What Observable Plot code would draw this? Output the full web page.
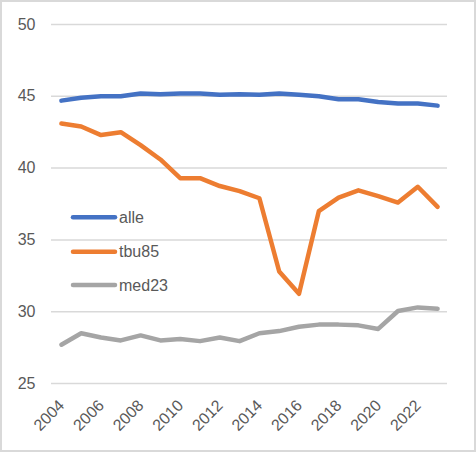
<!DOCTYPE html>
<html>
<head>
<meta charset="utf-8">
<script src="https://cdn.jsdelivr.net/npm/d3@7"></script>
<script src="https://cdn.jsdelivr.net/npm/@observablehq/plot@0.6"></script>
<style>
  html, body { margin: 0; padding: 0; background: #fff; }
  #wrap { position: relative; width: 476px; height: 452px; overflow: hidden; }
  #border { position: absolute; left: 0; top: 0; width: 476px; height: 452px; box-sizing: border-box; border: 2px solid #d9d9d9; pointer-events: none; }
  #legend { position: absolute; left: 0; top: 0; pointer-events: none; }
</style>
</head>
<body>
<div id="wrap"><div id="border"></div></div>
<script>
const years = [2004,2005,2006,2007,2008,2009,2010,2011,2012,2013,2014,2015,2016,2017,2018,2019,2020,2021,2022,2023];
const alle  = [44.7,44.9,45.0,45.0,45.2,45.15,45.2,45.2,45.1,45.15,45.1,45.2,45.1,45.0,44.8,44.8,44.6,44.5,44.5,44.35];
const tbu85 = [43.1,42.9,42.3,42.5,41.6,40.6,39.3,39.3,38.75,38.4,37.9,32.8,31.25,37.0,37.95,38.45,38.05,37.6,38.7,37.3];
const med23 = [27.7,28.5,28.2,28.0,28.35,28.0,28.1,27.95,28.2,27.95,28.5,28.65,28.95,29.1,29.1,29.05,28.8,30.05,30.3,30.2];
const seriesNames = ["alle","tbu85","med23"];
const seriesColors = ["#4472C4","#ED7D31","#A5A5A5"];
const yTicks = [25,30,35,40,45,50];
const xTicks = [2004,2006,2008,2010,2012,2014,2016,2018,2020,2022];

const seriesValues = [alle, tbu85, med23];
const data = seriesNames.flatMap((name, i) => years.map((year, j) => ({year, value: seriesValues[i][j], series: name})));

const font = "'Liberation Sans', Arial, sans-serif";
const textColor = "#595959";

const chart = Plot.plot({
  width: 476,
  height: 452,
  marginTop: 24,
  marginBottom: 69,
  marginLeft: 51,
  marginRight: 29,
  style: {fontFamily: font, fontSize: "16px", color: textColor, background: "transparent"},
  x: {domain: [2003.5, 2023.5], axis: null, label: null},
  y: {domain: [25, 50], axis: null, label: null},
  color: {domain: seriesNames, range: seriesColors},
  marks: [
    Plot.gridY(yTicks, {stroke: "#d9d9d9", strokeOpacity: 1, strokeWidth: 1.5}),
    Plot.axisY(yTicks, {tickSize: 0, tickPadding: 16, fill: textColor, fontSize: 16, textAnchor: "end", label: null}),
    Plot.text(xTicks, {x: d => d, text: d => String(d), frameAnchor: "bottom", rotate: -45, textAnchor: "end", lineAnchor: "bottom", dx: 4, dy: 23, fill: textColor, fontSize: 16}),
    Plot.line(data, {x: "year", y: "value", z: "series", stroke: "series", strokeWidth: 4.5, strokeLinejoin: "round", strokeLinecap: "round"})
  ]
});
const wrap = document.getElementById("wrap");
wrap.insertBefore(chart, wrap.firstChild);

// Legend (inside plot area, as in the reference)
const legendY = [217.3, 251.7, 285];
const leg = d3.select(wrap).append("svg").attr("id", "legend").attr("width", 476).attr("height", 452);
seriesNames.forEach((name, i) => {
  leg.append("line").attr("x1", 73).attr("x2", 115).attr("y1", legendY[i]).attr("y2", legendY[i])
    .attr("stroke", seriesColors[i]).attr("stroke-width", 4.5).attr("stroke-linecap", "round");
  leg.append("text").attr("x", 119).attr("y", legendY[i]).attr("dy", "0.36em")
    .attr("fill", textColor).attr("font-family", font).attr("font-size", 16).text(name);
});
</script>
</body>
</html>
